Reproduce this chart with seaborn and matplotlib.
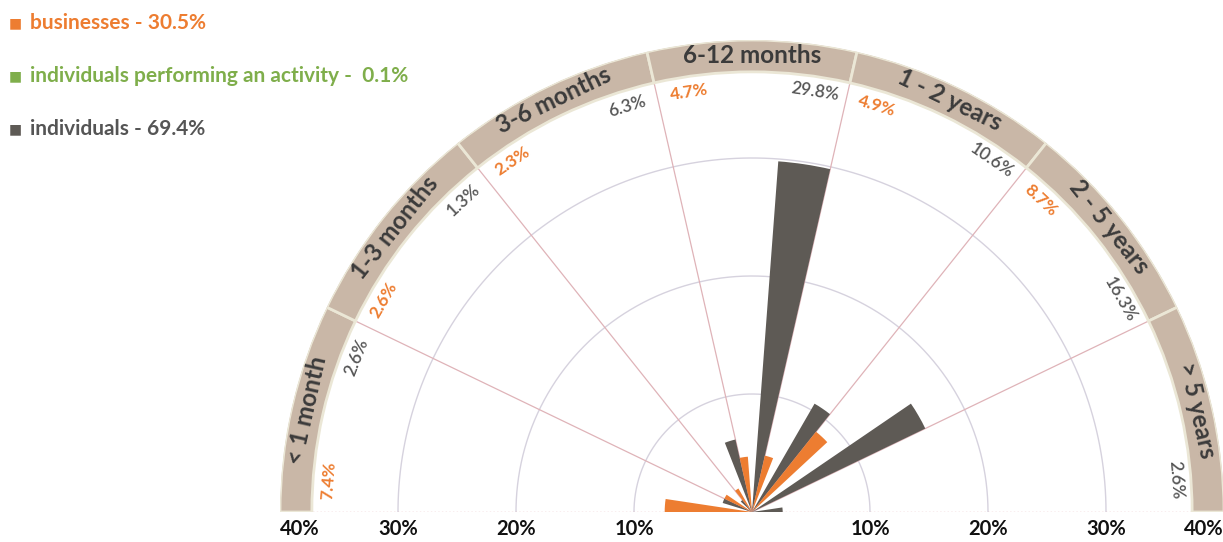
import numpy as np
import pandas as pd
import matplotlib
matplotlib.use("Agg")
import matplotlib.pyplot as plt
import seaborn as sns

# data
categories = ["< 1 month", "1-3 months", "3-6 months", "6-12 months",
              "1 - 2 years", "2 - 5 years", "> 5 years"]
businesses = [7.4, 2.6, 2.3, 4.7, 4.9, 8.7, 0.0]
activity = [0.0, 0.0, 0.0, 0.0, 0.0, 0.1, 0.0]
individuals = [2.6, 1.3, 6.3, 29.8, 10.6, 16.3, 2.6]
series_names = ["businesses", "individuals performing an activity", "individuals"]
series_totals = ["30.5%", " 0.1%", "69.4%"]
tick_values = [10, 20, 30, 40]

sns.set_theme(style="white")
plt.rcParams['font.family'] = ['Lato', 'DejaVu Sans']

palette = sns.color_palette(["#ed7d31", "#7fae4b", "#5e5a55"])
label_colors = ["#ed7d31", "#7fae4b", "#555555"]
band_color = "#c9b7a7"
band_edge = "#ebe7d6"
rmax = 40
band_in = 37.3

df = pd.DataFrame({"category": categories, "businesses": businesses,
                   "individuals performing an activity": activity,
                   "individuals": individuals})
long = df.melt(id_vars="category", var_name="series", value_name="value")

n = len(categories)
w = np.pi / n

W, H = 1223, 542
cx, cy, R = 752, 512, 472  # centre and radius in pixels (from top)
fig = plt.figure(figsize=(W / 100, H / 100), dpi=100)
# half disc is centred inside a square box, so the box is 2R x 2R
ax = fig.add_axes([(cx - R) / W, (H - (cy - R / 2) - R) / H, 2 * R / W, 2 * R / H],
                  projection="polar")
ax.set_thetamin(0)
ax.set_thetamax(180)
ax.set_ylim(0, rmax)
ax.axis("off")

# grid circles
th = np.linspace(0, np.pi, 300)
for r in tick_values[:-1]:
    ax.plot(th, np.full_like(th, r), color="#d6d2de", lw=1, zorder=1)
# sector dividers
for i in range(1, n):
    a = i * w
    ax.plot([a, a], [0, band_in], color="#dfb3b8", lw=0.9, zorder=1)
for a in [0, np.pi]:
    ax.plot([a, a], [0, band_in], color="#e2a9b0", lw=1, ls=":", zorder=1)

# bars
for i, cat in enumerate(categories):
    hi = np.pi - i * w
    lo = hi - w
    for j, s in enumerate(series_names):
        val = long[(long.category == cat) & (long.series == s)]["value"].iloc[0]
        center = hi - (j + 0.5) * w / 3
        if val > 0:
            ax.bar(center, val, width=w / 3, bottom=0, color=palette[j],
                   edgecolor="none", zorder=3)
        if val >= 1:
            deg = np.degrees(center)
            ax.text(center, 36, f"{val:.1f}%", rotation=deg - 90,
                    rotation_mode="anchor", ha="center", va="center",
                    fontsize=12.5, color=label_colors[j],
                    fontweight="bold" if j == 0 else "semibold", zorder=4)
    # outer band with the category name
    mid = (hi + lo) / 2
    ax.bar(mid, rmax - band_in, width=w, bottom=band_in, color=band_color,
           edgecolor=band_edge, linewidth=2, zorder=2)
    ax.text(mid, (band_in + rmax) / 2 + 0.05, cat, rotation=np.degrees(mid) - 90,
            rotation_mode="anchor", ha="center", va="center", fontsize=17.5,
            fontweight="bold", color="#3b3b3b", zorder=4)

# radial tick labels along the base line
for t in tick_values:
    for side in [0, np.pi]:
        ha = "center"
        if t == rmax:
            ha = "right" if side == 0 else "left"
        ax.annotate(f"{t}%", xy=(side, t), xytext=(0, -5), textcoords="offset points",
                    ha=ha, va="top", fontsize=14.5, fontweight="bold", color="#111111",
                    annotation_clip=False)

# legend as coloured text
for j, s in enumerate(series_names):
    y = 1 - (23 + j * 53) / H
    fig.text(9 / W, y, "■", color=palette[j], fontsize=10, va="center",
             family=["DejaVu Sans"])
    fig.text(30 / W, y, f"{s} - {series_totals[j]}", color=label_colors[j],
             fontsize=15, fontweight="bold", va="center")

fig.savefig("out.png", dpi=100)
